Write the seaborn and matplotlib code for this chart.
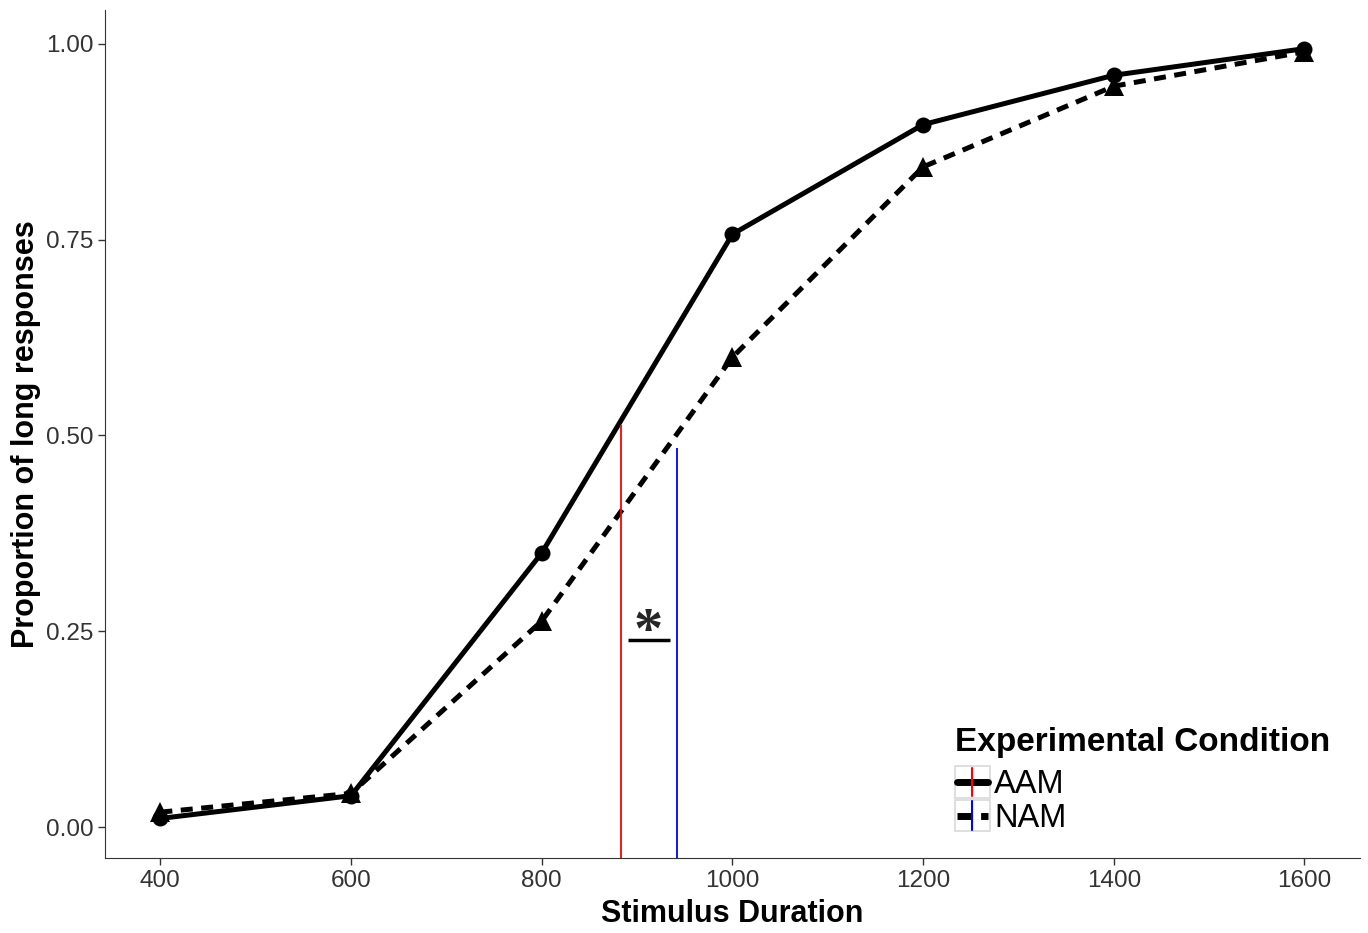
import pandas as pd
import matplotlib.pyplot as plt
import seaborn as sns
from matplotlib.lines import Line2D
from matplotlib.patches import Rectangle
from matplotlib.legend_handler import HandlerBase

# values
durations = [400, 600, 800, 1000, 1200, 1400, 1600]
aam = [0.011, 0.040, 0.350, 0.757, 0.897, 0.960, 0.994]
nam = [0.019, 0.043, 0.263, 0.600, 0.843, 0.946, 0.990]
conditions = ["AAM", "NAM"]
pse = [883, 942]        # vertical lines (PSE per condition)
pse_top = [0.513, 0.484]
cond_colors = ["#FF0000", "#0000FF"]
sig_x = [890, 934]
sig_y = 0.239

df = pd.DataFrame({
    "Stimulus Duration": durations * 2,
    "Proportion": aam + nam,
    "Condition": ["AAM"] * len(durations) + ["NAM"] * len(durations),
})

NAM_DASH = (2.4, 1.7)

sns.set_style("ticks")
plt.rcParams["font.family"] = ["Liberation Sans", "DejaVu Sans"]

fig, ax = plt.subplots(figsize=(13.68, 9.33), dpi=100)
fig.subplots_adjust(left=0.0768, right=0.994, top=0.989, bottom=0.080)

sns.lineplot(data=df, x="Stimulus Duration", y="Proportion", style="Condition",
             markers={"AAM": "o", "NAM": "^"},
             dashes={"AAM": "", "NAM": NAM_DASH},
             color="black", linewidth=3.6, markersize=11.5, markeredgewidth=0,
             legend=False, ax=ax)
ax.lines[1].set_markersize(14.5)

ymin, ymax = -0.04, 1.043
ax.set_xlim(342, 1658)
ax.set_ylim(ymin, ymax)

for x, top, c in zip(pse, pse_top, cond_colors):
    ax.vlines(x, ymin, top, color=c, linewidth=1.3)

ax.hlines(sig_y, sig_x[0], sig_x[1], color="black", linewidth=2.5)
ax.text(sum(sig_x) / 2, sig_y - 0.025, "*", ha="center", va="bottom",
        fontsize=42, fontweight="bold", family="Liberation Serif")

ax.set_xticks(durations)
ax.set_yticks([0, 0.25, 0.5, 0.75, 1.0])
ax.set_yticklabels(["0.00", "0.25", "0.50", "0.75", "1.00"])
ax.tick_params(labelsize=17.5, colors="#333333", length=5, width=1)
ax.set_xlabel("Stimulus Duration", fontsize=22, fontweight="bold",
              labelpad=5, color="black")
ax.set_ylabel("Proportion of long responses", fontsize=22, fontweight="bold",
              labelpad=3, color="black")
sns.despine(ax=ax)
for s in ["left", "bottom"]:
    ax.spines[s].set_color("#333333")


class KeyHandler(HandlerBase):
    def __init__(self, dashed, color):
        super().__init__()
        self.dashed = dashed
        self.color = color

    def create_artists(self, legend, orig_handle, xdescent, ydescent,
                       width, height, fontsize, trans):
        x0, y0 = -xdescent, -ydescent
        box = Rectangle((x0, y0), width, height, facecolor="white",
                        edgecolor="#D9D9D9", linewidth=1.2, transform=trans)
        hl = Line2D([x0 + 1.5, x0 + width - 1.5], [y0 + height / 2] * 2,
                    color="black", linewidth=5, transform=trans,
                    linestyle=(0, (2.0, 1.4)) if self.dashed else "-")
        vl = Line2D([x0 + width / 2] * 2, [y0 + 1, y0 + height - 1],
                    color=self.color, linewidth=1.5, transform=trans)
        return [box, hl, vl]


handles = [Line2D([], []), Line2D([], [])]
leg = ax.legend(handles, conditions, title="Experimental Condition",
                handler_map={handles[0]: KeyHandler(False, cond_colors[0]),
                             handles[1]: KeyHandler(True, cond_colors[1])},
                loc="lower left", bbox_to_anchor=(0.677, 0.029),
                frameon=False, fontsize=23.5, title_fontsize=24,
                handlelength=1.1, handleheight=1.1, handletextpad=0.12,
                labelspacing=0.0, borderpad=0, borderaxespad=0,
                alignment="left", labelcolor="black")
leg.get_title().set_fontweight("bold")
leg.get_title().set_color("black")
leg._legend_box.sep = 6

fig.savefig("out.png", dpi=100)
